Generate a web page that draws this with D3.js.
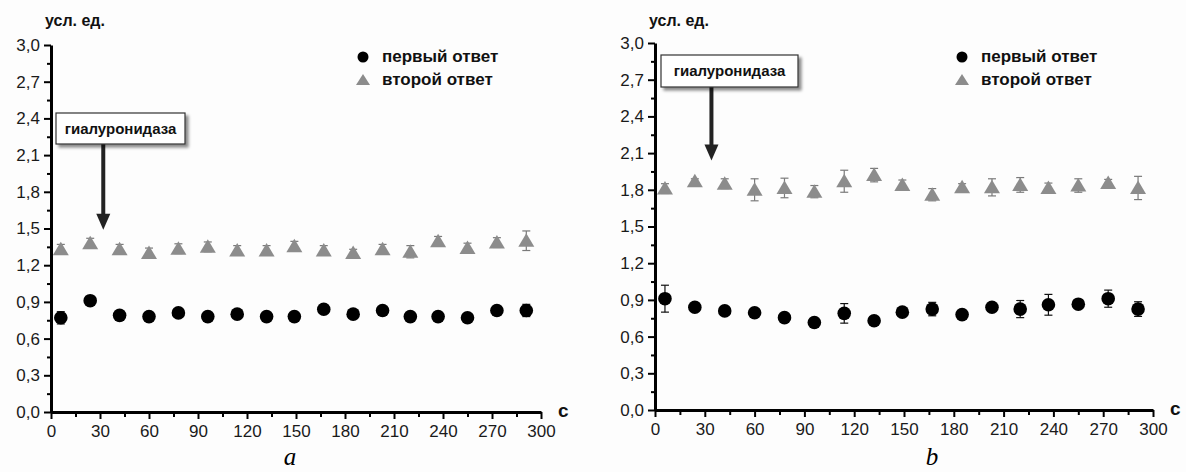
<!DOCTYPE html>
<meta charset="utf-8">
<script src="https://d3js.org/d3.v7.min.js"></script>
<style>
  body { margin: 0; background: #fdfdfd; }
  text { font-family: "Liberation Sans", Arial, sans-serif; }
</style>
<body>
<div id="canvas"></div>
<script>
// time points, s
var times = [6, 24, 42, 60, 78, 96, 114, 132, 149, 167, 185, 203, 220, 237, 255, 273, 291];

// panel a
var firstA     = [0.77, 0.91, 0.79, 0.78, 0.81, 0.78, 0.80, 0.78, 0.78, 0.84, 0.80, 0.83, 0.78, 0.78, 0.77, 0.83, 0.83];
var firstAErr  = [0.05, 0.02, 0.02, 0.02, 0.02, 0.02, 0.02, 0.02, 0.02, 0.02, 0.02, 0.02, 0.02, 0.02, 0.02, 0.02, 0.05];
var secondA    = [1.33, 1.38, 1.33, 1.30, 1.335, 1.35, 1.32, 1.32, 1.355, 1.32, 1.30, 1.33, 1.31, 1.395, 1.34, 1.385, 1.40];
var secondAErr = [0.04, 0.04, 0.04, 0.04, 0.04, 0.04, 0.04, 0.04, 0.04, 0.04, 0.03, 0.04, 0.05, 0.04, 0.04, 0.04, 0.08];

// panel b
var firstB     = [0.91, 0.84, 0.81, 0.795, 0.755, 0.715, 0.79, 0.73, 0.80, 0.825, 0.78, 0.84, 0.825, 0.86, 0.865, 0.91, 0.825];
var firstBErr  = [0.11, 0.02, 0.02, 0.03, 0.02, 0.02, 0.08, 0.02, 0.02, 0.055, 0.03, 0.02, 0.07, 0.085, 0.02, 0.07, 0.06];
var secondB    = [1.81, 1.87, 1.85, 1.80, 1.815, 1.785, 1.87, 1.92, 1.84, 1.76, 1.82, 1.82, 1.84, 1.815, 1.835, 1.855, 1.815];
var secondBErr = [0.04, 0.02, 0.04, 0.09, 0.08, 0.05, 0.09, 0.055, 0.04, 0.05, 0.03, 0.07, 0.06, 0.04, 0.055, 0.03, 0.095];

var yTicks = [0, 0.3, 0.6, 0.9, 1.2, 1.5, 1.8, 2.1, 2.4, 2.7, 3.0];
var xTicks = [0, 30, 60, 90, 120, 150, 180, 210, 240, 270, 300];
var legendLabels = ["первый ответ", "второй ответ"];
var yLabel = "усл. ед.";
var xLabel = "с";
var noteText = "гиалуронидаза";

var width = 1186, height = 472;
var fmt = function(d){ return d3.format(".1f")(d).replace(".", ","); };

var svg = d3.select("#canvas").append("svg")
    .attr("width", width).attr("height", height)
    .style("background", "#fdfdfd");

// drop shadow for the annotation boxes
var filt = svg.append("defs").append("filter").attr("id", "shadow")
    .attr("x", "-10%").attr("y", "-20%").attr("width", "130%").attr("height", "160%");
filt.append("feDropShadow").attr("dx", 3).attr("dy", 3).attr("stdDeviation", 1.5)
    .attr("flood-color", "#000").attr("flood-opacity", 0.45);

var panels = [
  { left: 51, right: 541, top: 45, bottom: 412, first: firstA, firstErr: firstAErr, second: secondA, secondErr: secondAErr,
    caption: "a", capX: 290, legX: 363, legY: 57, note: { x: 56, y: 113, w: 129, h: 31, t: 32, v: 1.49 } },
  { left: 655, right: 1153, top: 43, bottom: 410, first: firstB, firstErr: firstBErr, second: secondB, secondErr: secondBErr,
    caption: "b", capX: 932, legX: 962, legY: 57, note: { x: 661, y: 55, w: 137, h: 32, t: 34, v: 2.04 } }
];

var triPath = "M0,-7.5L8,6L-8,6Z";

panels.forEach(function(p){
  var x = d3.scaleLinear().domain([0, 300]).range([p.left, p.right]);
  var y = d3.scaleLinear().domain([0, 3]).range([p.bottom, p.top]);
  var g = svg.append("g");

  // minor ticks
  g.append("g").attr("transform", "translate(" + p.left + ",0)")
    .call(d3.axisLeft(y).tickValues(d3.range(0.15, 3, 0.3)).tickSize(4).tickFormat(""))
    .call(function(s){ s.select(".domain").remove(); s.selectAll("line").attr("stroke-width", 2); });
  g.append("g").attr("transform", "translate(0," + p.bottom + ")")
    .call(d3.axisBottom(x).tickValues(d3.range(15, 300, 30)).tickSize(5).tickFormat(""))
    .call(function(s){ s.select(".domain").remove(); s.selectAll("line").attr("stroke-width", 2); });

  // y axis
  g.append("g").attr("transform", "translate(" + p.left + ",0)")
    .call(d3.axisLeft(y).tickValues(yTicks).tickSize(7).tickSizeOuter(0).tickPadding(4).tickFormat(fmt))
    .call(function(s){
      s.select(".domain").attr("stroke-width", 3);
      s.selectAll("line").attr("stroke-width", 2);
      s.selectAll("text").attr("font-size", 17).attr("fill", "#1a1a1a")
        .style("font-family", "'Liberation Sans', Arial, sans-serif");
    });

  // x axis
  g.append("g").attr("transform", "translate(0," + p.bottom + ")")
    .call(d3.axisBottom(x).tickValues(xTicks).tickSize(7).tickSizeOuter(0).tickPadding(6))
    .call(function(s){
      s.select(".domain").attr("stroke-width", 3);
      s.selectAll("line").attr("stroke-width", 2);
      s.selectAll("text").attr("font-size", 17).attr("fill", "#1a1a1a")
        .style("font-family", "'Liberation Sans', Arial, sans-serif");
    });

  g.append("text").attr("x", p.left - 6).attr("y", 26)
    .attr("font-size", 16).attr("font-weight", "bold").attr("fill", "#111").text(yLabel);
  g.append("text").attr("x", p.right + 17).attr("y", p.bottom + 5)
    .attr("font-size", 19).attr("font-weight", "bold").attr("fill", "#111").text(xLabel);
  g.append("text").attr("x", p.capX).attr("y", 465).attr("text-anchor", "middle")
    .attr("font-size", 25).attr("font-style", "italic")
    .style("font-family", "'Liberation Serif', 'Times New Roman', serif").text(p.caption);

  function errBars(vals, errs, color, capW){
    var eg = g.append("g").attr("stroke", color).attr("stroke-width", 1.2);
    times.forEach(function(t, i){
      var cx = x(t), y1 = y(vals[i] + errs[i]), y2 = y(vals[i] - errs[i]);
      eg.append("line").attr("x1", cx).attr("x2", cx).attr("y1", y1).attr("y2", y2);
      eg.append("line").attr("x1", cx - capW).attr("x2", cx + capW).attr("y1", y1).attr("y2", y1);
      eg.append("line").attr("x1", cx - capW).attr("x2", cx + capW).attr("y1", y2).attr("y2", y2);
    });
  }
  // second response (gray triangles)
  errBars(p.second, p.secondErr, "#7a7a7a", 4);
  g.append("g").selectAll("path").data(times).join("path")
    .attr("d", triPath).attr("fill", "#8c8c8c")
    .attr("transform", function(t, i){ return "translate(" + x(t) + "," + y(p.second[i]) + ")"; });

  // first response (black circles)
  errBars(p.first, p.firstErr, "#111", 4);
  g.append("g").selectAll("circle").data(times).join("circle")
    .attr("cx", function(t){ return x(t); })
    .attr("cy", function(t, i){ return y(p.first[i]); })
    .attr("r", 6.8).attr("fill", "#000");

  // legend
  var lg = g.append("g");
  lg.append("circle").attr("cx", p.legX).attr("cy", p.legY).attr("r", 5.5).attr("fill", "#000");
  lg.append("path").attr("d", "M0,-6L7,5L-7,5Z").attr("fill", "#8c8c8c")
    .attr("transform", "translate(" + p.legX + "," + (p.legY + 23) + ")");
  legendLabels.forEach(function(l, i){
    lg.append("text").attr("x", p.legX + 19).attr("y", p.legY + 5 + i * 23)
      .attr("font-size", 17).attr("font-weight", "bold").attr("fill", "#111").text(l);
  });

  // annotation box with arrow
  var n = p.note;
  var ax = x(n.t), tipY = y(n.v);
  g.append("line").attr("x1", ax).attr("x2", ax).attr("y1", n.y + n.h).attr("y2", tipY - 14)
    .attr("stroke", "#222").attr("stroke-width", 4);
  g.append("path").attr("d", "M" + (ax - 7) + "," + (tipY - 16) + "L" + (ax + 7) + "," + (tipY - 16) + "L" + ax + "," + tipY + "Z")
    .attr("fill", "#222");
  g.append("rect").attr("x", n.x).attr("y", n.y).attr("width", n.w).attr("height", n.h)
    .attr("fill", "#fff").attr("stroke", "#333").attr("stroke-width", 1.2).attr("filter", "url(#shadow)");
  g.append("text").attr("x", n.x + n.w / 2).attr("y", n.y + n.h / 2 + 5).attr("text-anchor", "middle")
    .attr("font-size", 15).attr("font-weight", "bold").attr("fill", "#111").text(noteText);
});
</script>
</body>
